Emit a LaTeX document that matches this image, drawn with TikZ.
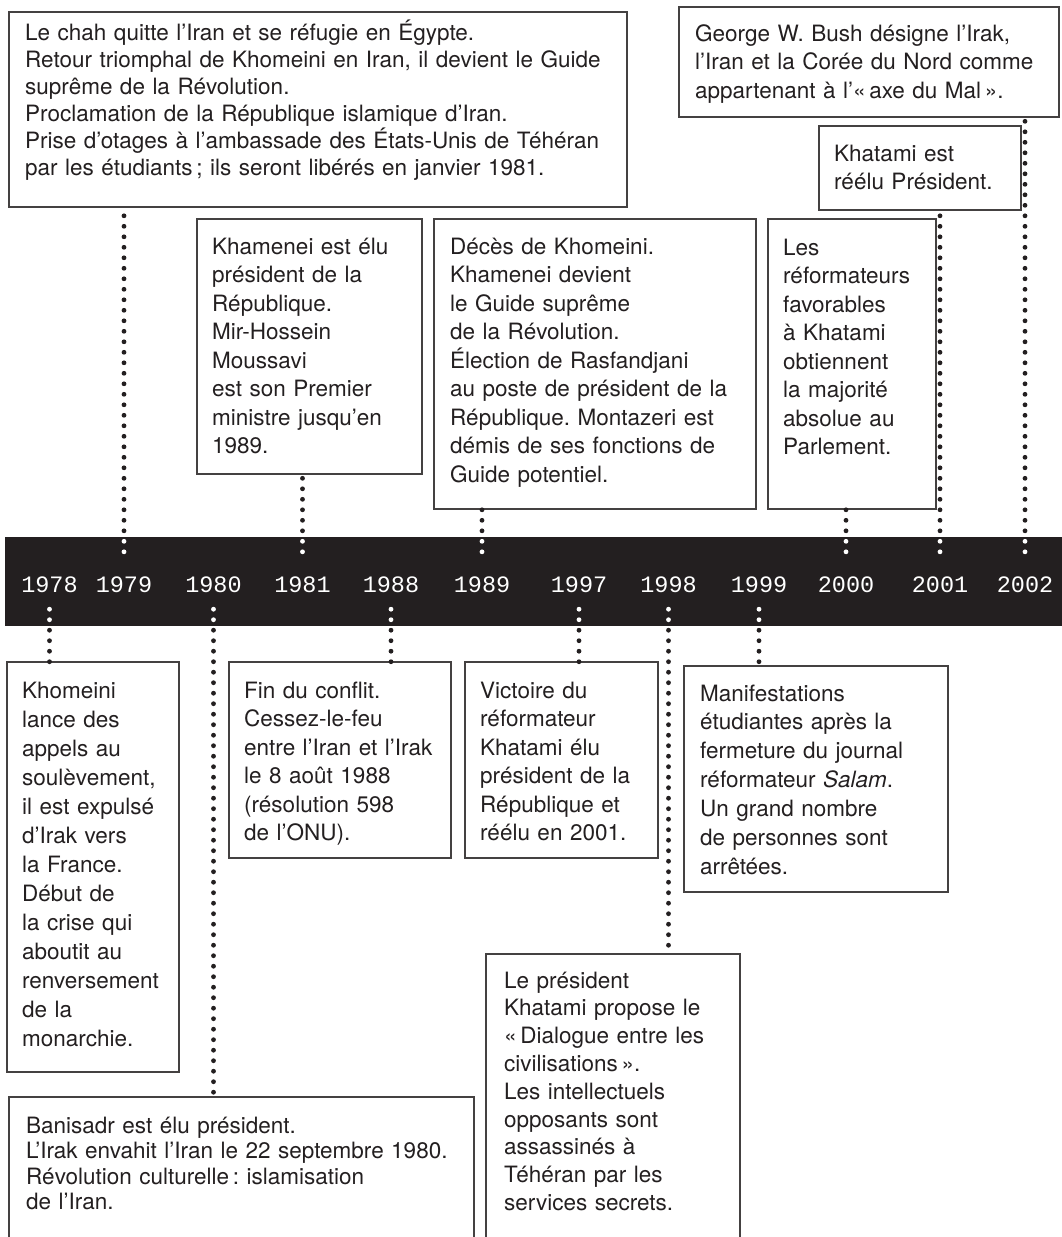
\documentclass[tikz,border=0pt]{standalone}
\usepackage{fontspec}
\setmainfont{TeX Gyre Heros}
\newfontfamily\yearfont{Liberation Mono}
\usepackage{tikz}
\definecolor{ink}{HTML}{231F20}
\frenchspacing

\tikzset{
  evbox/.style={draw=ink!85, line width=1.2pt, anchor=north west, inner sep=0pt, outer sep=0pt},
  evtext/.style={anchor=base west, inner sep=0pt, text width=640pt, align=left, text=ink, font=\fontsize{22.5}{28.5}\selectfont},
  yr/.style={anchor=base, inner sep=0pt, text=white, text height=40pt, text depth=17pt, font=\yearfont\fontsize{23.5}{23.5}\selectfont},
  dotlink/.style={draw=ink, line width=4.8pt, line cap=round, dash pattern=on 0pt off 10.5pt},
}

\begin{document}
\begin{tikzpicture}[x=1pt,y=1pt,yscale=-1]
\useasboundingbox (0,0) rectangle (1062,1237);

%Shape: Bar
\node (bar) [fill=ink, anchor=north west, inner sep=0pt, minimum width=1070pt, minimum height=89pt] at (5,537) {};

% Year Nodes
\node (y1978) [yr] at (49.5,592) {1978};
\node (y1979) [yr] at (124,592) {1979};
\node (y1980) [yr] at (213.5,592) {1980};
\node (y1981) [yr] at (302.5,592) {1981};
\node (y1988) [yr] at (391,592) {1988};
\node (y1989) [yr] at (482,592) {1989};
\node (y1997) [yr] at (579,592) {1997};
\node (y1998) [yr] at (668.5,592) {1998};
\node (y1999) [yr] at (759,592) {1999};
\node (y2000) [yr] at (846,592) {2000};
\node (y2001) [yr] at (940,592) {2001};
\node (y2002) [yr] at (1025,592) {2002};

%Shape: Rectangle
\node (b1979) [evbox, minimum width=618pt, minimum height=195pt] at (9,12) {};
% Text Node
\node (t1979) [evtext, font=\fontsize{22.5}{27}\selectfont] at (25,40) {Le chah quitte l’Iran et se réfugie en Égypte.\\ Retour triomphal de Khomeini en Iran, il devient le Guide\\ suprême de la Révolution.\\ Proclamation de la République islamique d’Iran.\\ Prise d’otages à l’ambassade des États-Unis de Téhéran\\ par les étudiants\,; ils seront libérés en janvier 1981.};

%Shape: Rectangle
\node (b1981) [evbox, minimum width=225pt, minimum height=255pt] at (197,219) {};
% Text Node
\node (t1981) [evtext] at (212,254) {Khamenei est élu\\ président de la\\ République.\\ Mir-Hossein\\ Moussavi\\ est son Premier\\ ministre jusqu’en\\ 1989.};

%Shape: Rectangle
\node (b1989) [evbox, minimum width=322pt, minimum height=290pt] at (434,219) {};
% Text Node
\node (t1989) [evtext] at (450,254) {Décès de Khomeini.\\ Khamenei devient\\ le Guide suprême\\ de la Révolution.\\ Élection de Rasfandjani\\ au poste de président de la\\ République. Montazeri est\\ démis de ses fonctions de\\ Guide potentiel.};

%Shape: Rectangle
\node (b2000) [evbox, minimum width=168pt, minimum height=290pt] at (768,219) {};
% Text Node
\node (t2000) [evtext] at (783,255) {Les\\ réformateurs\\ favorables\\ à Khatami\\ obtiennent\\ la majorité\\ absolue au\\ Parlement.};

%Shape: Rectangle
\node (b2001) [evbox, minimum width=202pt, minimum height=84pt] at (819,126) {};
% Text Node
\node (t2001) [evtext] at (834,161) {Khatami est\\ réélu Président.};

%Shape: Rectangle
\node (b2002) [evbox, minimum width=380pt, minimum height=110pt] at (679,7) {};
% Text Node
\node (t2002) [evtext] at (695,41) {George W. Bush désigne l’Irak,\\ l’Iran et la Corée du Nord comme\\ appartenant à l’«\,axe du Mal\,».};

%Shape: Rectangle
\node (b1978) [evbox, minimum width=172pt, minimum height=410pt] at (7,662) {};
% Text Node
\node (t1978) [evtext, font=\fontsize{22.5}{29}\selectfont] at (22,698) {Khomeini\\ lance des\\ appels au\\ soulèvement,\\ il est expulsé\\ d’Irak vers\\ la France.\\ Début de\\ la crise qui\\ aboutit au\\ renversement\\ de la\\ monarchie.};

%Shape: Rectangle
\node (b1980) [evbox, minimum width=465pt, minimum height=200pt] at (9,1097) {};
% Text Node
\node (t1980) [evtext, font=\fontsize{22.5}{25.5}\selectfont] at (26,1133) {Banisadr est élu président.\\ L’Irak envahit l’Iran le 22 septembre 1980.\\ Révolution culturelle\,: islamisation\\ de l’Iran.};

%Shape: Rectangle
\node (b1988) [evbox, minimum width=222pt, minimum height=196pt] at (229,662) {};
% Text Node
\node (t1988) [evtext] at (244,698) {Fin du conflit.\\ Cessez-le-feu\\ entre l’Iran et l’Irak\\ le 8 août 1988\\ (résolution 598\\ de l’ONU).};

%Shape: Rectangle
\node (b1997) [evbox, minimum width=193pt, minimum height=196pt] at (465,662) {};
% Text Node
\node (t1997) [evtext] at (480,698) {Victoire du\\ réformateur\\ Khatami élu\\ président de la\\ République et\\ réélu en 2001.};

%Shape: Rectangle
\node (b1998) [evbox, minimum width=254pt, minimum height=300pt] at (486,954) {};
% Text Node
\node (t1998) [evtext, font=\fontsize{22.5}{27.8}\selectfont] at (504,988) {Le président\\ Khatami propose le\\ «\,Dialogue entre les\\ civilisations\,».\\ Les intellectuels\\ opposants sont\\ assassinés à\\ Téhéran par les\\ services secrets.};

%Shape: Rectangle
\node (b1999) [evbox, minimum width=264pt, minimum height=226pt] at (684,666) {};
% Text Node
\node (t1999) [evtext, font=\fontsize{22.5}{28.9}\selectfont] at (700,701) {Manifestations\\ étudiantes après la\\ fermeture du journal\\ réformateur \textit{Salam}.\\ Un grand nombre\\ de personnes sont\\ arrêtées.};

%Dotted Lines
\draw [dotlink] (y1979.north) -- (y1979.north |- b1979.south);
\draw [dotlink] (y1981.north) -- (y1981.north |- b1981.south);
\draw [dotlink] (y1989.north) -- (y1989.north |- b1989.south);
\draw [dotlink] (y2000.north) -- (y2000.north |- b2000.south);
\draw [dotlink] (y2001.north) -- (y2001.north |- b2001.south);
\draw [dotlink] (y2002.north) -- (y2002.north |- b2002.south);
\draw [dotlink] (y1978.south) -- (y1978.south |- b1978.north);
\draw [dotlink] (y1980.south) -- (y1980.south |- b1980.north);
\draw [dotlink] (y1988.south) -- (y1988.south |- b1988.north);
\draw [dotlink] (y1997.south) -- (y1997.south |- b1997.north);
\draw [dotlink] (y1998.south) -- (y1998.south |- b1998.north);
\draw [dotlink] (y1999.south) -- (y1999.south |- b1999.north);

%Dotted Lines inside the bar
\begin{scope}
\clip (bar.north west) rectangle (bar.south east);
\draw [dotlink, draw=white] (y1979.north) -- (y1979.north |- b1979.south);
\draw [dotlink, draw=white] (y1981.north) -- (y1981.north |- b1981.south);
\draw [dotlink, draw=white] (y1989.north) -- (y1989.north |- b1989.south);
\draw [dotlink, draw=white] (y2000.north) -- (y2000.north |- b2000.south);
\draw [dotlink, draw=white] (y2001.north) -- (y2001.north |- b2001.south);
\draw [dotlink, draw=white] (y2002.north) -- (y2002.north |- b2002.south);
\draw [dotlink, draw=white] (y1978.south) -- (y1978.south |- b1978.north);
\draw [dotlink, draw=white] (y1980.south) -- (y1980.south |- b1980.north);
\draw [dotlink, draw=white] (y1988.south) -- (y1988.south |- b1988.north);
\draw [dotlink, draw=white] (y1997.south) -- (y1997.south |- b1997.north);
\draw [dotlink, draw=white] (y1998.south) -- (y1998.south |- b1998.north);
\draw [dotlink, draw=white] (y1999.south) -- (y1999.south |- b1999.north);
\end{scope}

\end{tikzpicture}
\end{document}
